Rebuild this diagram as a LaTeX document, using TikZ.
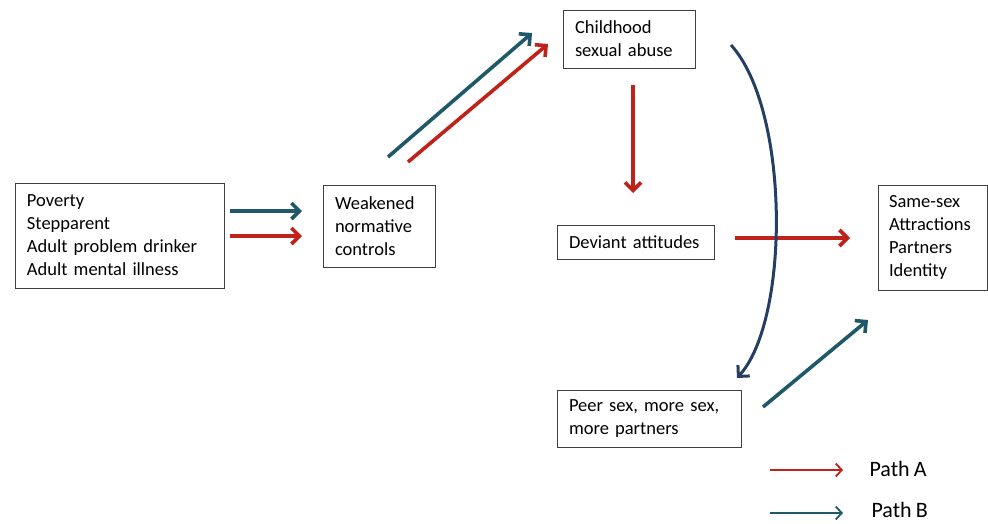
\documentclass[tikz,border=0pt]{standalone}
\usepackage{fontspec}
\setmainfont{Carlito}[WordSpace=0.85]
\usetikzlibrary{arrows.meta}
\definecolor{pathA}{RGB}{192,34,26}
\definecolor{pathB}{RGB}{30,88,105}
\definecolor{curveblue}{RGB}{36,62,100}

\begin{document}
\begin{tikzpicture}[x=1pt, y=-1pt,
  main node/.style={draw=black!75, line width=0.9pt, inner xsep=12pt, align=left,
    font=\fontsize{18.5}{23}\selectfont},
  flow/.style={line width=3.6pt, -{Straight Barb[length=8pt, width=16pt]}},
  key/.style={line width=1.8pt, -{Straight Barb[length=6pt, width=13pt]}},
  key text/.style={anchor=west, font=\fontsize{22}{26}\selectfont}]
\useasboundingbox (0,0) rectangle (988,523);

\node[main node, text width=185pt, minimum height=105pt] (risk)    at (119.5,235.5) {Poverty\\Stepparent\\Adult problem drinker\\Adult mental illness};
\node[main node, text width=88pt,  minimum height=82pt]  (weak)    at (379,226)     {Weakened\\normative\\controls};
\node[main node, text width=108pt, minimum height=58pt]  (abuse)   at (629,39)      {Childhood\\sexual abuse};
\node[main node, text width=133pt, minimum height=34pt]  (deviant) at (635.5,242)   {Deviant attitudes};
\node[main node, text width=87pt, inner xsep=11pt, minimum height=105pt] (samesex) at (932.5,237.5) {Same-sex\\Attractions\\Partners\\Identity};
\node[main node, text width=160pt, minimum height=57pt]  (peer)    at (649,418.5)   {Peer sex, more sex,\\more partners};

\node[key text] (keyA) at (866,469) {Path A};
\node[key text] (keyB) at (868,510) {Path B};

% arrow ends
\coordinate (rB) at (230,211);  \coordinate (wB) at (302,211);
\coordinate (rA) at (230,236);  \coordinate (wA) at (302,236);
\coordinate (w2B) at (388,157); \coordinate (aB) at (532,33);
\coordinate (w2A) at (408,162); \coordinate (aA) at (548,44);
\coordinate (a2) at (633,85);   \coordinate (d1) at (633,193);
\coordinate (d2) at (735,238);  \coordinate (s1) at (850,238);
\coordinate (a3) at (731,45);   \coordinate (p1) at (737,378);
\coordinate (p2) at (763,407);  \coordinate (s2) at (868,320);
\coordinate (kA) at (770,470);  \coordinate (kB) at (770,513);

\draw[flow, pathB] (rB) -- (wB);
\draw[flow, pathA] (rA) -- (wA);
\draw[flow, pathB] (w2B) -- (aB);
\draw[flow, pathA] (w2A) -- (aA);
\draw[flow, pathA] (a2) -- (d1);
\draw[flow, pathA] (d2) -- (s1);
\draw[line width=3pt, curveblue, -{Straight Barb[length=8pt, width=16pt]}]
  (a3) .. controls (790,110) and (790,320) .. (p1);
\draw[flow, pathB] (p2) -- (s2);

\draw[key, pathA] (kA) -- ++(73,0);
\draw[key, pathB] (kB) -- ++(73,0);
\end{tikzpicture}
\end{document}
